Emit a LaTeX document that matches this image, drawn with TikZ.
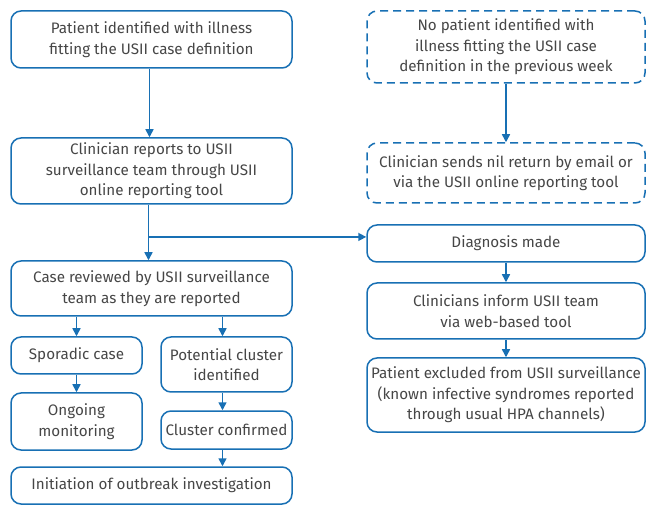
\documentclass[tikz,border=0pt]{standalone}
\usepackage{fontspec}
\setmainfont{Fira Sans}
\usepackage{xcolor}
\usepackage{tikz}
\usetikzlibrary{arrows.meta, positioning, calc}
\definecolor{flowblue}{RGB}{24, 112, 180}
\definecolor{flowtext}{RGB}{70, 70, 70}

\tikzset{
    flowbox/.style={draw=flowblue, line width=1.5pt, rounded corners=10pt, align=center,
        text=flowtext, font=\fontsize{15.2}{20.5}\selectfont, inner sep=0pt},
    nilbox/.style={flowbox, dashed, dash pattern=on 8pt off 5pt},
    flowarrow/.style={draw=flowblue, line width=1.5pt, -{Triangle[length=8pt,width=8pt]}}
}

\begin{document}
\begin{tikzpicture}[x=1pt, y=-1pt]
        \useasboundingbox (0,0) rectangle (646,505);
        % left column
        \node[flowbox, minimum width=281pt, minimum height=57pt] (patient) at (151.5,39.5)
            {Patient identified with illness\\fitting the USII case definition};
        \node[flowbox, minimum width=281pt, minimum height=66pt] (reports) at (151.5,171)
            {Clinician reports to USII\\surveillance team through USII\\online reporting tool};
        \node[flowbox, minimum width=281pt, minimum height=55pt] (reviewed) at (151.5,288.5)
            {Case reviewed by USII surveillance\\team as they are reported};
        \node[flowbox, minimum width=131pt, minimum height=37pt] (sporadic) at (76.5,355.5)
            {Sporadic case};
        \node[flowbox, minimum width=131pt, minimum height=57pt] (monitor) at (76.5,421.5)
            {Ongoing\\monitoring};
        \node[flowbox, minimum width=131pt, minimum height=55pt] (potential) at (226.5,364.5)
            {Potential cluster\\identified};
        \node[flowbox, minimum width=131pt, minimum height=38pt] (confirmed) at (226.5,430)
            {Cluster confirmed};
        \node[flowbox, minimum width=281pt, minimum height=37pt] (outbreak) at (151.5,485.5)
            {Initiation of outbreak investigation};
        % right column
        \node[nilbox, minimum width=278pt, minimum height=72pt] (nopatient) at (506,47)
            {No patient identified with\\illness fitting the USII case\\definition in the previous week};
        \node[nilbox, minimum width=278pt, minimum height=60pt] (nilreturn) at (506,173)
            {Clinician sends nil return by email or\\via the USII online reporting tool};
        \node[flowbox, minimum width=278pt, minimum height=37pt] (diagnosis) at (506,243.5)
            {Diagnosis made};
        \node[flowbox, minimum width=278pt, minimum height=56pt] (inform) at (506,311)
            {Clinicians inform USII team\\via web-based tool};
        \node[flowbox, minimum width=278pt, minimum height=74pt] (excluded) at (506,395)
            {Patient excluded from USII surveillance\\(known infective syndromes reported\\through usual HPA channels)};

        % connectors
        \coordinate (split) at ($(reports.south)!0.58!(reviewed.north)$);
        \draw[flowarrow] ([xshift=-2pt]patient.south) -- ([xshift=-2pt]reports.north);
        \draw[flowarrow] ([xshift=-3pt]reports.south) -- ([xshift=-3pt]reviewed.north);
        \draw[flowarrow] ([xshift=-3pt]split) -- (split -| diagnosis.west);
        \draw[flowarrow] (nopatient) -- (nilreturn);
        \draw[flowarrow] (diagnosis) -- (inform);
        \draw[flowarrow] (inform) -- (excluded);
        \draw[flowarrow] (reviewed.south -| sporadic.north) -- (sporadic);
        \draw[flowarrow] ([xshift=-4pt]reviewed.south -| potential.north) -- ([xshift=-4pt]potential.north);
        \draw[flowarrow] (sporadic) -- (monitor);
        \draw[flowarrow] ([xshift=-4pt]potential.south) -- ([xshift=-4pt]confirmed.north);
        \draw[flowarrow] ([xshift=-4pt]confirmed.south) -- ([xshift=-4pt]confirmed.south |- outbreak.north);
    \end{tikzpicture}
\end{document}
